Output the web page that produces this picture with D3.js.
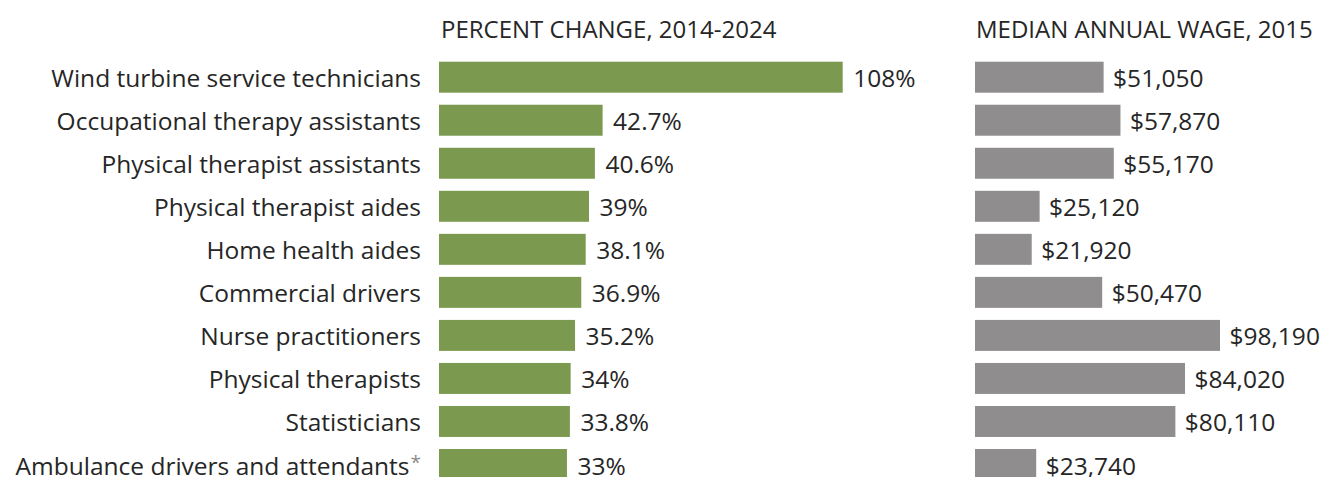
<!DOCTYPE html>
<html>
<head>
<meta charset="utf-8">
<script src="https://cdn.jsdelivr.net/npm/d3@7"></script>
<style>
  html, body { margin: 0; padding: 0; background: #ffffff; }
  svg { display: block; }
  text { font-family: "Open Sans", sans-serif; fill: #262626; }
</style>
</head>
<body>
<svg id="chart" width="1323" height="477"></svg>
<script>
// Occupations, fastest projected growth
const occupations = [
  "Wind turbine service technicians",
  "Occupational therapy assistants",
  "Physical therapist assistants",
  "Physical therapist aides",
  "Home health aides",
  "Commercial drivers",
  "Nurse practitioners",
  "Physical therapists",
  "Statisticians",
  "Ambulance drivers and attendants"
];
// Percent change in employment, 2014-2024
const percentChange = [108, 42.7, 40.6, 39, 38.1, 36.9, 35.2, 34, 33.8, 33];
// Median annual wage, 2015 (dollars)
const medianWage = [51050, 57870, 55170, 25120, 21920, 50470, 98190, 84020, 80110, 23740];
// Occupations carrying a footnote marker
const footnoted = ["Ambulance drivers and attendants"];
// Panel titles
const panelTitles = ["PERCENT CHANGE, 2014-2024", "MEDIAN ANNUAL WAGE, 2015"];

const rows = occupations.map((name, i) => ({
  name, pct: percentChange[i], wage: medianWage[i]
}));

const svg = d3.select("#chart");
const fontSize = 24.5;
const titleSize = 24;

const y = d3.scaleBand()
  .domain(occupations)
  .range([61.7, 480])
  .paddingInner(0.28)
  .paddingOuter(0);

// Percent panel: bars start slightly before zero
const xPct = d3.scaleLinear().domain([-1.8, 108]).range([439, 842.7]);
// Wage panel
const xWage = d3.scaleLinear().domain([-1050, 98190]).range([975, 1220]);

const fmtPct = v => v + "%";
const fmtWage = v => "$" + d3.format(",")(v);

// baseline offset from the band centre
const baseDy = 10;

// Category labels
const labels = svg.append("g").selectAll("text")
  .data(rows).join("text")
  .attr("x", 421)
  .attr("y", d => y(d.name) + y.bandwidth() / 2 + baseDy)
  .attr("text-anchor", "end")
  .style("font-size", fontSize + "px");
labels.append("tspan").text(d => d.name);
labels.filter(d => footnoted.includes(d.name))
  .append("tspan")
  .attr("dy", -6)
  .attr("dx", 1)
  .style("font-size", "19px")
  .style("fill", "#8a8a8a")
  .text("*");

// Panel titles
svg.append("text")
  .attr("x", 441)
  .attr("y", 38.3)
  .style("font-size", titleSize + "px")
  .text(panelTitles[0]);
svg.append("text")
  .attr("x", 976)
  .attr("y", 38.3)
  .style("font-size", titleSize + "px")
  .text(panelTitles[1]);

// Percent change bars
const gPct = svg.append("g");
gPct.selectAll("rect").data(rows).join("rect")
  .attr("x", xPct(-1.8))
  .attr("y", d => y(d.name))
  .attr("width", d => xPct(d.pct) - xPct(-1.8))
  .attr("height", y.bandwidth())
  .attr("fill", "#7b9a50");
gPct.selectAll("text").data(rows).join("text")
  .attr("x", d => xPct(d.pct) + 10.5)
  .attr("y", d => y(d.name) + y.bandwidth() / 2 + baseDy)
  .style("font-size", fontSize + "px")
  .text(d => fmtPct(d.pct));

// Wage bars
const gWage = svg.append("g");
gWage.selectAll("rect").data(rows).join("rect")
  .attr("x", xWage(-1050))
  .attr("y", d => y(d.name))
  .attr("width", d => xWage(d.wage) - xWage(-1050))
  .attr("height", y.bandwidth())
  .attr("fill", "#8f8d8e");
gWage.selectAll("text").data(rows).join("text")
  .attr("x", d => xWage(d.wage) + 9.5)
  .attr("y", d => y(d.name) + y.bandwidth() / 2 + baseDy)
  .style("font-size", fontSize + "px")
  .text(d => fmtWage(d.wage));
</script>
</body>
</html>
